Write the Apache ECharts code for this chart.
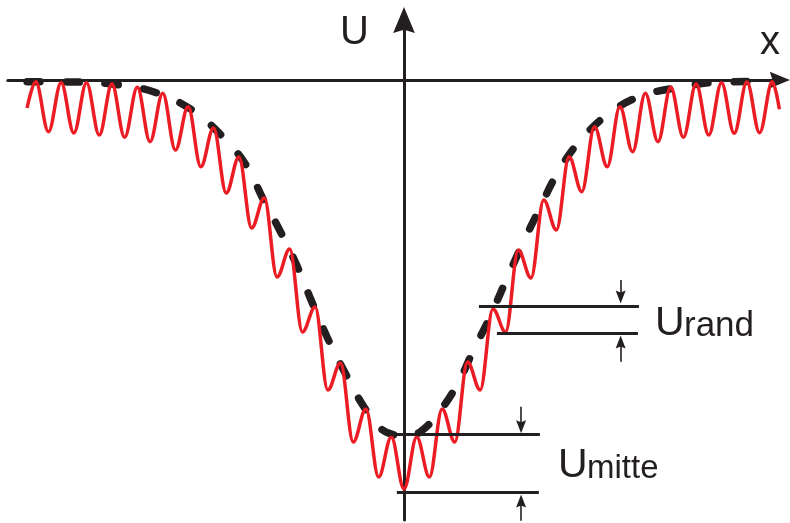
<!DOCTYPE html>
<html>
<head>
<meta charset="utf-8">
<script src="https://cdn.jsdelivr.net/npm/echarts@6/dist/echarts.min.js"></script>
<style>
  html, body { margin: 0; padding: 0; background: #ffffff; }
  #chart { width: 790px; height: 523px; }
</style>
</head>
<body>
<div id="chart"></div>
<script>
// Position x in lattice periods (troughs of the modulation at whole numbers),
// potential U in arbitrary units, 0 = far field.

// Modulated potential: its local maxima and minima, left to right
const modulatedX = [
  -14.84, -14.5, -14, -13.5, -13, -12.5, -12, -11.5, -11, -10.5, -10,
  -9.5, -9, -8.5, -8, -7.5, -7, -6.5, -6, -5.5, -5, -4.5, -4, -3.5, -3,
  -2.5, -2, -1.5, -1, -0.5, 0, 0.5, 1, 1.5, 2, 2.5, 3, 3.5, 4, 4.5, 5,
  5.5, 6, 6.5, 7, 7.5, 8, 8.5, 9, 9.5, 10, 10.5, 11, 11.5, 12, 12.5, 13,
  13.5, 14, 14.5, 14.78
];
const modulatedU = [
  -2.8, -0.17, -5.17, -0.27, -5.3, -0.27, -5.5, -0.4, -5.73, -0.73, -6.17,
  -1.33, -7.0, -2.67, -8.67, -4.8, -11.3, -7.7, -14.8, -11.8, -19.7, -16.9, -25.2, -22.7, -31.0,
  -28.3, -36.2, -32.9, -39.7, -35.7, -40.9, -35.7, -39.7, -32.9, -36.2, -28.2, -31.0, -22.9, -25.2, -17.0, -19.8,
  -12.0, -15.0, -7.67, -11.17, -4.67, -8.67, -2.67, -7.17, -1.33, -6.17, -0.73, -5.73, -0.4, -5.5, -0.27, -5.33,
  -0.2, -5.27, -0.17, -2.93
];

// Smooth well (dashed)
const envelopeX = [
  -14.84, -12.99, -11.5, -9.84, -8.35, -7.17, -6.22, -5.55, -4.88, -4.21,
  -3.66, -3.03, -2.36, -1.65, -0.94, -0.39, 0.08, 0.63, 1.26, 2.09, 2.72,
  3.35, 3.94, 4.61, 5.35, 6.02, 6.89, 8.15, 9.45, 11.06, 12.13, 13.62, 14.33
];
const envelopeU = [
  -0.17, -0.2, -0.4, -1.2, -3.0, -5.6, -8.5, -11.9, -15.1, -18.6,
  -22.0, -25.7, -29.1, -32.4, -34.8, -35.5, -35.7, -35.2, -33.6, -30.5, -27.1,
  -23.9, -20.5, -16.7, -12.8, -9.4, -6.2, -3.2, -1.5, -0.65, -0.25, -0.15, -0.1
];

// Reference levels: [xStart, xEnd, U]
const randLevels = [[2.95, 9.25, -22.6], [3.66, 9.21, -25.33]];
const mitteLevels = [[-0.63, 5.35, -35.4], [-0.28, 5.31, -41.27]];

// Measuring arrows: [x, tail U, head U]
const levelArrows = [
  [8.53, -20.0, -21.7], [8.53, -28.17, -26.2],
  [4.61, -32.67, -34.67], [4.61, -44.2, -42.1]
];

const INK = '#231f20';
const RED = '#ec1c24';
const AXIS_HEAD = 'path://M10,0L20,24L10,21L0,24Z';
const SMALL_HEAD = 'path://M5,0L10,13L5,11L0,13Z';

const zip = (xs, ys) => xs.map((x, i) => [x, ys[i]]);

const chart = echarts.init(document.getElementById('chart'), null, { renderer: 'canvas' });

const fontFamily = '"Liberation Sans", Arial, Helvetica, sans-serif';
const txt = (text, x, y, size) => ({
  type: 'text',
  z: 100,
  style: {
    text: text, x: x, y: y,
    font: size + 'px ' + fontFamily,
    fill: INK,
    textAlign: 'left',
    verticalAlign: 'middle'
  }
});

chart.setOption({
  animation: false,
  backgroundColor: '#ffffff',
  grid: { left: 7.8, right: 10.1, top: 20, bottom: 3, containLabel: false, outerBoundsMode: 'none' },
  xAxis: {
    type: 'value', min: -15.6, max: 14.8,
    axisLine: {
      show: true, onZero: true,
      symbol: ['none', AXIS_HEAD], symbolSize: [18, 20],
      lineStyle: { color: INK, width: 3 }
    },
    axisTick: { show: false }, axisLabel: { show: false }, splitLine: { show: false }
  },
  yAxis: {
    type: 'value', min: -44, max: 6,
    axisLine: {
      show: true, onZero: true,
      symbol: ['none', AXIS_HEAD], symbolSize: [22, 26],
      lineStyle: { color: INK, width: 3 }
    },
    axisTick: { show: false }, axisLabel: { show: false }, splitLine: { show: false }
  },
  series: [
    {
      name: 'Mittleres Potential',
      type: 'line',
      data: zip(envelopeX, envelopeU),
      smooth: 0.4,
      showSymbol: false,
      lineStyle: { color: INK, width: 7.5, type: [13, 26], cap: 'round' },
      z: 2
    },
    {
      name: 'Potential',
      type: 'line',
      data: zip(modulatedX, modulatedU),
      smooth: 0.36,
      smoothMonotone: 'x',
      showSymbol: false,
      lineStyle: { color: RED, width: 3.5 },
      z: 3
    },
    {
      name: 'Niveaus',
      type: 'lines',
      coordinateSystem: 'cartesian2d',
      data: randLevels.concat(mitteLevels).map(l => ({ coords: [[l[0], l[2]], [l[1], l[2]]] })),
      symbol: 'none',
      lineStyle: { color: INK, width: 3, opacity: 1, curveness: 0 },
      z: 4
    },
    {
      name: 'Pfeile',
      type: 'lines',
      coordinateSystem: 'cartesian2d',
      data: levelArrows.map(a => ({ coords: [[a[0], a[1]], [a[0], a[2]]] })),
      symbol: ['none', SMALL_HEAD],
      symbolSize: [0, [10, 13]],
      lineStyle: { color: INK, width: 1.6, opacity: 1, curveness: 0 },
      z: 4
    }
  ],
  graphic: [
    txt('U', 340, 32.7, 40),
    txt('x', 760, 42.7, 40),
    txt('U', 655, 324, 41),
    txt('rand', 684, 325.9, 35),
    txt('U', 558, 466, 41),
    txt('mitte', 587, 468.6, 33)
  ]
});
</script>
</body>
</html>
